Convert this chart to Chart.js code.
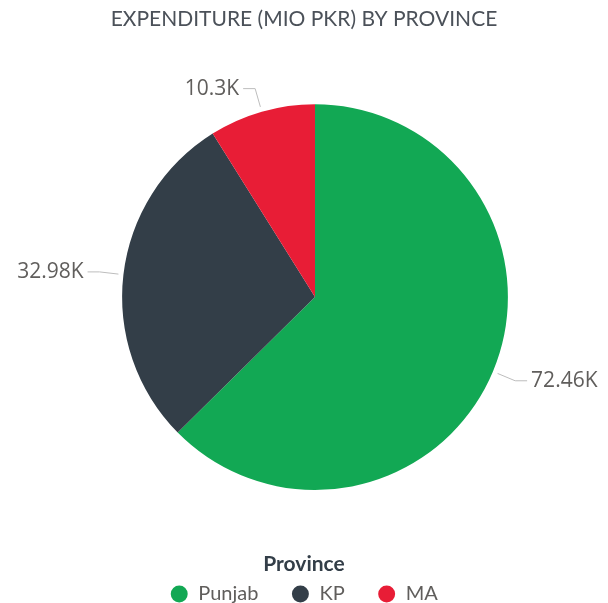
<!DOCTYPE html>
<html>
<head>
<meta charset="utf-8">
<script src="https://cdn.jsdelivr.net/npm/chart.js@4"></script>
<style>
  body { margin: 0; background: #fff; }
</style>
</head>
<body>
<canvas id="province-chart" width="608" height="603"></canvas>
<script>
// Expenditure per province, millions of PKR
const provinces = ["Punjab", "KP", "MA"];
const expenditure = [72460, 32980, 10300];
const sliceColors = ["#12a854", "#333e48", "#e81d36"];

// 72460 -> "72.46K", 10300 -> "10.3K"
const formatK = v => parseFloat((v / 1000).toFixed(2)) + "K";

// outside labels with a short elbow leader line
const outsideLabels = {
    id: "outsideLabels",
    afterDatasetsDraw(chart) {
        const ctx = chart.ctx;
        const meta = chart.getDatasetMeta(0);
        ctx.save();
        ctx.font = "21px 'Open Sans'";
        ctx.textBaseline = "middle";
        meta.data.forEach((arc, i) => {
            const p = arc.getProps(["x", "y", "startAngle", "endAngle", "outerRadius"], true);
            const mid = (p.startAngle + p.endAngle) / 2;
            const cos = Math.cos(mid), sin = Math.sin(mid);
            const x0 = p.x + cos * (p.outerRadius + 5);
            const y0 = p.y + sin * (p.outerRadius + 5);
            const x1 = p.x + cos * (p.outerRadius + 24);
            const y1 = p.y + sin * (p.outerRadius + 24);
            const right = cos >= 0;
            const x2 = x1 + (right ? 12 : -12);

            ctx.strokeStyle = "#bdbdbd";
            ctx.lineWidth = 1;
            ctx.beginPath();
            ctx.moveTo(x0, y0);
            ctx.lineTo(x1, y1);
            ctx.lineTo(x2, y1);
            ctx.stroke();

            ctx.fillStyle = "#605e5c";
            ctx.textAlign = right ? "left" : "right";
            ctx.fillText(formatK(expenditure[i]), x2 + (right ? 4 : -4), y1);
        });
        ctx.restore();
    }
};

// nudge the pie to the right of the canvas centre, leaving title and legend centred
const shiftPie = {
    id: "shiftPie",
    afterLayout(chart) {
        chart.chartArea.left += 22;
        chart.chartArea.width -= 22;
    }
};

const provinceChart = new Chart(document.getElementById("province-chart"), {
    type: "pie",
    data: {
        labels: provinces,
        datasets: [{
            data: expenditure,
            backgroundColor: sliceColors,
            borderWidth: 0
        }]
    },
    options: {
        responsive: false,
        animation: false,
        layout: {
            padding: { top: 0, bottom: -11 }
        },
        plugins: {
            title: {
                display: true,
                text: "EXPENDITURE (MIO PKR) BY PROVINCE",
                color: "#4b5159",
                font: { family: "Lato", size: 21, weight: "normal" },
                padding: { top: 7, bottom: 72 }
            },
            legend: {
                position: "bottom",
                title: {
                    display: true,
                    text: "Province",
                    color: "#333e48",
                    font: { family: "Lato", size: 21, weight: "bold" },
                    padding: { top: 64, bottom: -28.2 }
                },
                labels: {
                    usePointStyle: true,
                    pointStyle: "circle",
                    boxWidth: 18,
                    boxHeight: 12,
                    padding: 33,
                    color: "#605e5c",
                    font: { family: "Lato", size: 20 }
                }
            },
            tooltip: { enabled: false }
        }
    },
    plugins: [outsideLabels, shiftPie]
});
</script>
</body>
</html>
